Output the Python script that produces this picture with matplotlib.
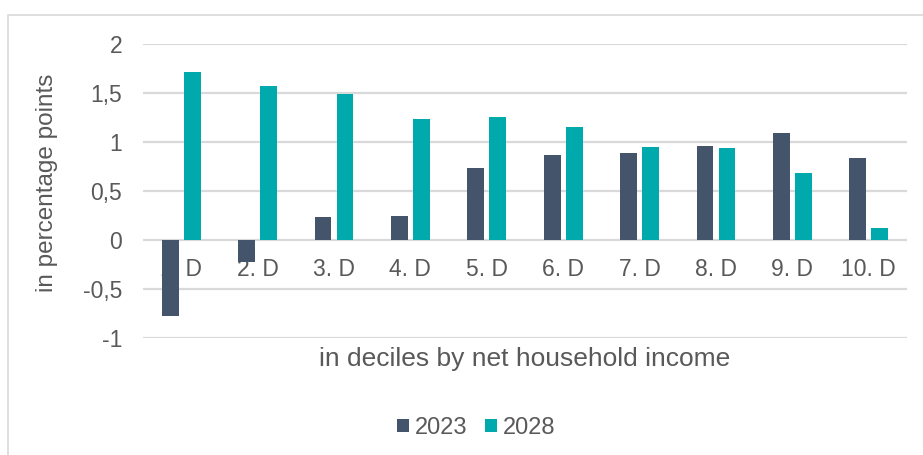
import matplotlib.pyplot as plt
import numpy as np
from matplotlib.patches import Rectangle

# Change in percentage points by income decile
deciles = ["1. D", "2. D", "3. D", "4. D", "5. D", "6. D", "7. D", "8. D", "9. D", "10. D"]
vals_2023 = [-0.78, -0.22, 0.23, 0.245, 0.73, 0.87, 0.89, 0.96, 1.095, 0.84]
vals_2028 = [1.71, 1.57, 1.49, 1.23, 1.255, 1.15, 0.95, 0.94, 0.68, 0.12]
yticks = [-1, -0.5, 0, 0.5, 1, 1.5, 2]
ytick_labels = ["-1", "-0,5", "0", "0,5", "1", "1,5", "2"]

c2023 = "#44546A"
c2028 = "#00A9AB"
txt = "#595959"
grid = "#D9D9D9"

plt.rcParams["font.family"] = ["Liberation Sans", "DejaVu Sans"]

W, H = 923, 455
fig = plt.figure(figsize=(W / 100, H / 100), dpi=100)
ax = fig.add_axes([143 / W, 1 - 338 / H, (907 - 143) / W, (338 - 44) / H])

x = np.arange(len(deciles))
bw = 0.22
off = 0.145
ax.bar(x - off, vals_2023, bw, color=c2023, label="2023", zorder=3)
ax.bar(x + off, vals_2028, bw, color=c2028, label="2028", zorder=3)

ax.set_xlim(-0.5, len(deciles) - 0.5)
ax.set_ylim(-1, 2)
ax.set_yticks(yticks)
ax.set_yticklabels(ytick_labels)
ax.yaxis.grid(True, color=grid, linewidth=1.6, zorder=0)
ax.tick_params(axis="y", length=0, pad=15, labelsize=16.5, labelcolor=txt)

# category labels sit just under the zero line
ax.set_xticks(x)
ax.set_xticklabels(deciles)
ax.spines["bottom"].set_position(("data", 0))
ax.tick_params(axis="x", length=0, pad=13, labelsize=16.5, labelcolor=txt)
for s in ax.spines.values():
    s.set_visible(False)

fig.text(47 / W, 1 - 183 / H, "in percentage points", rotation=90, ha="center",
         va="center", fontsize=17.5, color=txt)
fig.text(525 / W, 1 - 359 / H, "in deciles by net household income", ha="center",
         va="center", fontsize=19, color=txt)

handles, labels = ax.get_legend_handles_labels()
fig.legend(handles, labels, loc="center", bbox_to_anchor=(476 / W, 1 - 428 / H),
           ncol=2, frameon=False, fontsize=17, labelcolor=txt, handlelength=0.5,
           handleheight=0.5, handletextpad=0.25, columnspacing=0.75)

# chart area outline
fig.add_artist(Rectangle((8 / W, -0.05), 1.1, 1 - 15 / H + 0.05, transform=fig.transFigure,
                         fill=False, edgecolor=grid, linewidth=1.2))

fig.savefig("out.png", dpi=100)
